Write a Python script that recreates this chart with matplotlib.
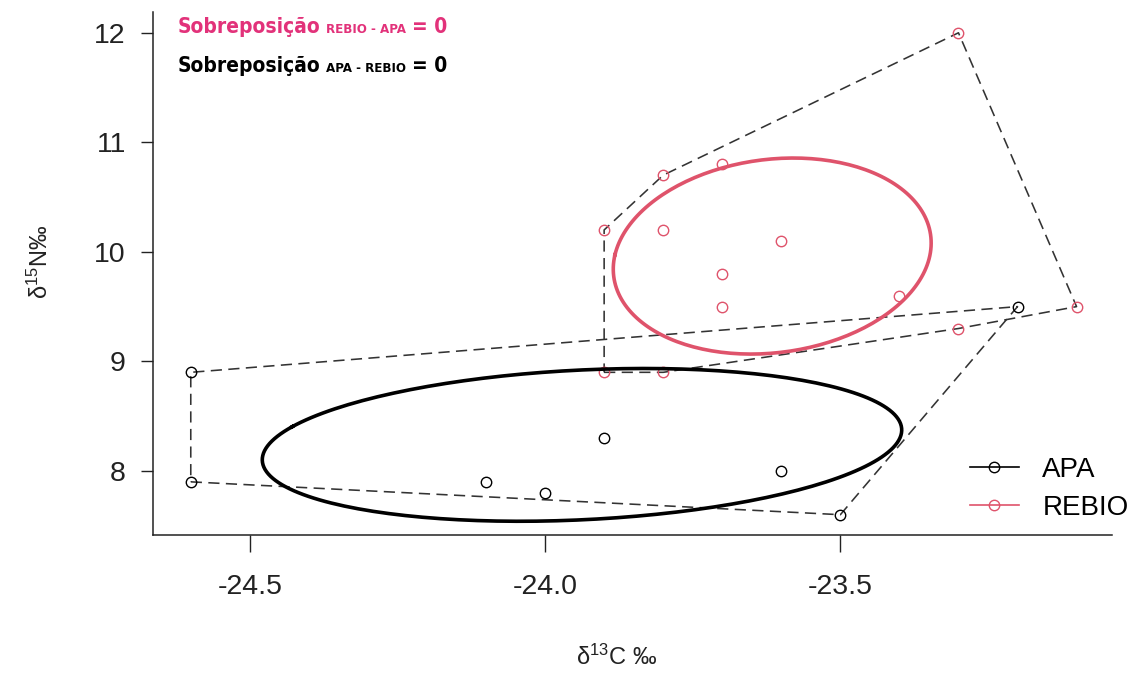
import numpy as np
import matplotlib
matplotlib.use('Agg')
import matplotlib.pyplot as plt
from matplotlib.lines import Line2D
from matplotlib.ticker import FormatStrFormatter
from matplotlib.offsetbox import TextArea, HPacker, AnnotationBbox

plt.rcParams['font.family'] = ['Liberation Sans', 'DejaVu Sans']
plt.rcParams['mathtext.default'] = 'regular'
plt.rcParams['axes.unicode_minus'] = False

# isotope values per group (d13C, d15N)
apa_d13c = [-24.6, -24.6, -24.1, -24.0, -23.9, -23.6, -23.5, -23.2]
apa_d15n = [8.9, 7.9, 7.9, 7.8, 8.3, 8.0, 7.6, 9.5]
rebio_d13c = [-23.9, -23.8, -23.7, -23.8, -23.6, -23.7, -23.7, -23.4, -23.3, -23.1, -23.3, -23.9, -23.8]
rebio_d15n = [10.2, 10.7, 10.8, 10.2, 10.1, 9.8, 9.5, 9.6, 9.3, 9.5, 12.0, 8.9, 8.9]
group_names = ['APA', 'REBIO']
group_colors = ['black', '#DF536B']

overlap_rebio_apa = 0
overlap_apa_rebio = 0

x_ticks = [-24.5, -24.0, -23.5]
y_ticks = [8, 9, 10, 11, 12]


def convex_hull(xs, ys):
    # monotone chain, returns closed ring
    pts = sorted(set(zip(xs, ys)))

    def cross(o, a, b):
        return (a[0] - o[0]) * (b[1] - o[1]) - (a[1] - o[1]) * (b[0] - o[0])

    lower, upper = [], []
    for p in pts:
        while len(lower) >= 2 and cross(lower[-2], lower[-1], p) <= 0:
            lower.pop()
        lower.append(p)
    for p in reversed(pts):
        while len(upper) >= 2 and cross(upper[-2], upper[-1], p) <= 0:
            upper.pop()
        upper.append(p)
    ring = lower[:-1] + upper[:-1]
    ring.append(ring[0])
    return np.array(ring)


def standard_ellipse(xs, ys, n_pts=200):
    # SEAc: sample covariance with small sample correction
    data = np.column_stack([xs, ys])
    n = len(xs)
    mu = data.mean(axis=0)
    cov = np.cov(data, rowvar=False) * (n - 1) / (n - 2)
    vals, vecs = np.linalg.eigh(cov)
    t = np.linspace(0, 2 * np.pi, n_pts)
    circle = np.vstack([np.cos(t), np.sin(t)])
    ell = vecs @ np.diag(np.sqrt(vals)) @ circle
    return mu[0] + ell[0], mu[1] + ell[1]


fig = plt.figure(figsize=(11.34, 6.73), dpi=100)
ax = fig.add_axes([0.1349, 0.2051, 0.8457, 0.7771])

groups = [(apa_d13c, apa_d15n), (rebio_d13c, rebio_d15n)]
for (gx, gy), col in zip(groups, group_colors):
    ax.plot(gx, gy, 'o', ms=7.5, mfc='none', mec=col, mew=1.0, zorder=3)
    hull = convex_hull(gx, gy)
    ax.plot(hull[:, 0], hull[:, 1], color='#333333', lw=1.15,
            linestyle=(0, (7, 4)), zorder=2)
    ex, ey = standard_ellipse(gx, gy)
    ax.plot(ex, ey, color=col, lw=2.6, zorder=4)

ax.set_xlim(-24.664, -23.04)
ax.set_ylim(7.415, 12.19)
ax.set_xticks(x_ticks)
ax.set_yticks(y_ticks)
ax.xaxis.set_major_formatter(FormatStrFormatter('%.1f'))
ax.spines['top'].set_visible(False)
ax.spines['right'].set_visible(False)
for s in ('left', 'bottom'):
    ax.spines[s].set_linewidth(1.1)
    ax.spines[s].set_color('#222222')
ax.tick_params(axis='y', length=8.6, width=1.0, pad=11, labelsize=20.5, colors='#222222')
ax.tick_params(axis='x', length=12, width=1.0, pad=16, labelsize=20.5, colors='#222222')

fig.text(617 / 1134, 1 - 657 / 673, 'δ$^{13}$C ‰', fontsize=17, ha='center', va='center',
         color='#222222')
fig.text(40 / 1134, 1 - 262 / 673, 'δ$^{15}$N‰', fontsize=17, ha='center', va='center',
         rotation=90, color='#222222')

handles = [Line2D([0], [0], color=c, marker='o', mfc='none', ms=7.5, lw=1.2)
           for c in group_colors]
ax.legend(handles, group_names, loc='upper left', bbox_to_anchor=(0.852, 0.15),
          frameon=False, fontsize=20, handlelength=1.75, handletextpad=0.85,
          labelspacing=0.45, borderpad=0, borderaxespad=0)

# overlap annotations
title_font = dict(family='DejaVu Sans', fontstretch='condensed', fontweight='bold')


def overlap_line(first, second, value, color, y_frac):
    parts = [
        TextArea('Sobreposição', textprops=dict(fontsize=15, color=color, **title_font)),
        TextArea(f'{first} - {second}', textprops=dict(fontsize=9.5, color=color, **title_font)),
        TextArea(f'= {value}', textprops=dict(fontsize=15, color=color, **title_font)),
    ]
    box = HPacker(children=parts, align='baseline', pad=0, sep=4)
    ab = AnnotationBbox(box, (178 / 1134, y_frac), xycoords='figure fraction',
                        box_alignment=(0, 0.5), frameon=False)
    fig.add_artist(ab)


overlap_line('REBIO', 'APA', overlap_rebio_apa, '#E2327A', 1 - 27 / 673)
overlap_line('APA', 'REBIO', overlap_apa_rebio, 'black', 1 - 66 / 673)

fig.savefig('out.png', dpi=100)
